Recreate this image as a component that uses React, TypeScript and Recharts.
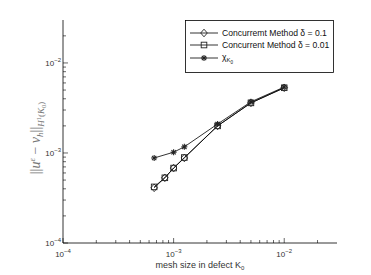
import { LineChart, Line, XAxis, YAxis, Legend, Label } from 'recharts';

// mesh sizes and errors
const hConcurrent = [6.67e-4, 8.33e-4, 1e-3, 1.25e-3, 2.5e-3, 5e-3, 1e-2];
const errDelta01 = [4.1e-4, 5.3e-4, 6.8e-4, 8.8e-4, 2.0e-3, 3.6e-3, 5.3e-3];
const errDelta001 = [4.2e-4, 5.3e-4, 6.8e-4, 8.9e-4, 2.0e-3, 3.6e-3, 5.3e-3];
const hChi = [6.67e-4, 1e-3, 1.25e-3, 2.5e-3, 5e-3, 1e-2];
const errChi = [8.8e-4, 1.02e-3, 1.17e-3, 2.1e-3, 3.7e-3, 5.4e-3];

const majorTicks = [1e-4, 1e-3, 1e-2];
const tickExponents = ['\u22124', '\u22123', '\u22122'];
const minorTicks = [
  2e-4, 3e-4, 4e-4, 5e-4, 6e-4, 7e-4, 8e-4, 9e-4,
  2e-3, 3e-3, 4e-3, 5e-3, 6e-3, 7e-3, 8e-3, 9e-3,
  2e-2,
];
const allTicks = [...majorTicks, ...minorTicks].sort((a, b) => a - b);

const delta01Data = hConcurrent.map((h, i) => ({ h, err: errDelta01[i] }));
const delta001Data = hConcurrent.map((h, i) => ({ h, err: errDelta001[i] }));
const chiData = hChi.map((h, i) => ({ h, err: errChi[i] }));

const FONT = '"Liberation Sans", Arial, Helvetica, sans-serif';
const SERIF = '"Liberation Serif", "Times New Roman", serif';
const MARK = '#222';

const isMajor = (v: number) => majorTicks.some(m => Math.abs(m - v) / m < 1e-6);
const expOf = (v: number) => tickExponents[majorTicks.findIndex(m => Math.abs(m - v) / m < 1e-6)];

function Diamond({ cx, cy }: { cx: number; cy: number }) {
  return (
    <polygon
      points={`${cx},${cy - 3.8} ${cx + 3.3},${cy} ${cx},${cy + 3.8} ${cx - 3.3},${cy}`}
      fill="none" stroke={MARK} strokeWidth={0.9}
    />
  );
}

function Square({ cx, cy }: { cx: number; cy: number }) {
  return <rect x={cx - 2.8} y={cy - 2.8} width={5.6} height={5.6} fill="none" stroke={MARK} strokeWidth={0.9} />;
}

function Star({ cx, cy }: { cx: number; cy: number }) {
  const r = 3;
  const d = r * 0.72;
  return (
    <g stroke={MARK} strokeWidth={1.1}>
      <line x1={cx - r} y1={cy} x2={cx + r} y2={cy} />
      <line x1={cx} y1={cy - r} x2={cx} y2={cy + r} />
      <line x1={cx - d} y1={cy - d} x2={cx + d} y2={cy + d} />
      <line x1={cx - d} y1={cy + d} x2={cx + d} y2={cy - d} />
    </g>
  );
}

const dotFn = (Shape: any) => (p: any) => <Shape key={p.key ?? `${p.cx}-${p.cy}`} cx={p.cx} cy={p.cy} />;

function BottomTick({ x, y, payload }: any) {
  const major = isMajor(payload.value);
  return (
    <g>
      <line x1={x} x2={x} y1={y} y2={y - (major ? 5 : 3)} stroke="#000" strokeWidth={0.6} />
      {major && (
        <text x={x} y={y + 14} textAnchor="middle" fontFamily={FONT} fontSize={8} fill="#333">
          10<tspan dy={-4} fontSize={6}>{expOf(payload.value)}</tspan>
        </text>
      )}
    </g>
  );
}

function TopTick({ x, y, payload }: any) {
  const major = isMajor(payload.value);
  return <line x1={x} x2={x} y1={y} y2={y + (major ? 5 : 3)} stroke="#000" strokeWidth={0.6} />;
}

function LeftTick({ x, y, payload }: any) {
  const major = isMajor(payload.value);
  return (
    <g>
      <line x1={x} x2={x + (major ? 5 : 3)} y1={y} y2={y} stroke="#000" strokeWidth={0.6} />
      {major && (
        <text x={x - 2} y={y + 3} textAnchor="end" fontFamily={FONT} fontSize={8} fill="#333">
          10<tspan dy={-4} fontSize={6}>{expOf(payload.value)}</tspan>
        </text>
      )}
    </g>
  );
}

function RightTick({ x, y, payload }: any) {
  const major = isMajor(payload.value);
  return <line x1={x} x2={x - (major ? 5 : 3)} y1={y} y2={y} stroke="#000" strokeWidth={0.6} />;
}

function YLabel() {
  const cx = 40;
  const cy = 138;
  return (
    <text
      x={cx} y={cy} transform={`rotate(-90 ${cx} ${cy})`} textAnchor="middle"
      fontFamily={SERIF} fontSize={14} fill="#777"
    >
      ||<tspan fontStyle="italic">u</tspan>
      <tspan dy={-5} fontSize={9} fontStyle="italic">ε</tspan>
      <tspan dy={5}> − </tspan>
      <tspan fontStyle="italic">v</tspan>
      <tspan dy={3} fontSize={9} fontStyle="italic">h</tspan>
      <tspan dy={-3}>||</tspan>
      <tspan dy={4} fontSize={9} fontStyle="italic">H</tspan>
      <tspan dy={-3.5} fontSize={6.5}>1</tspan>
      <tspan dy={3.5} fontSize={9}>(</tspan>
      <tspan fontSize={9} fontStyle="italic">K</tspan>
      <tspan dy={2} fontSize={6.5}>0</tspan>
      <tspan dy={-2} fontSize={9}>)</tspan>
    </text>
  );
}

function XLabel({ viewBox }: any) {
  const cx = viewBox ? viewBox.x + viewBox.width / 2 : 200;
  return (
    <text x={cx} y={268} textAnchor="middle" fontFamily={FONT} fontSize={9} fill="#333">
      mesh size in defect K<tspan dy={2} fontSize={6}>0</tspan>
    </text>
  );
}

function LegendBox() {
  const rows = [
    { y: 13, Shape: Diamond },
    { y: 25, Shape: Square },
    { y: 38, Shape: Star },
  ];
  return (
    <svg width={149} height={53} style={{ display: 'block' }}>
      <rect x={0.5} y={0.5} width={148} height={52} fill="#fff" stroke="#000" strokeWidth={0.8} />
      {rows.map(({ y, Shape }, i) => (
        <g key={i}>
          <line x1={5} x2={33} y1={y} y2={y} stroke="#000" strokeWidth={0.8} />
          <Shape cx={19} cy={y} />
        </g>
      ))}
      <text x={37} y={16} fontFamily={FONT} fontSize={8.6} fill="#111">Concurremt Method δ = 0.1</text>
      <text x={37} y={28} fontFamily={FONT} fontSize={8.6} fill="#111">Concurrent Method δ = 0.01</text>
      <text x={37} y={40} fontFamily={FONT} fontSize={8.6} fill="#111">
        χ<tspan dy={2} fontSize={6}>K</tspan><tspan dy={2} fontSize={4.5}>0</tspan>
      </text>
    </svg>
  );
}

export default function App() {
  return (
    <div style={{ position: 'absolute', left: 0, top: 0, width: 371, height: 275, background: '#fff' }}>
      <LineChart width={371} height={275} margin={{ top: 20, right: 34, left: 0, bottom: 0 }}>
        <XAxis
          xAxisId="b" dataKey="h" type="number" scale="log" domain={[1e-4, 0.03]} allowDataOverflow
          ticks={allTicks} interval={0} tick={<BottomTick />} tickLine={false} tickSize={0} tickMargin={0}
          axisLine={{ stroke: '#000', strokeWidth: 0.8 }} height={32}
        >
          <Label content={<XLabel />} />
        </XAxis>
        <XAxis
          xAxisId="t" orientation="top" dataKey="h" type="number" scale="log" domain={[1e-4, 0.03]}
          allowDataOverflow ticks={allTicks} interval={0} tick={<TopTick />} tickLine={false}
          tickSize={0} tickMargin={0} axisLine={{ stroke: '#000', strokeWidth: 0.8 }} height={0}
        />
        <YAxis
          yAxisId="l" dataKey="err" type="number" scale="log" domain={[1e-4, 0.03]} allowDataOverflow
          ticks={allTicks} interval={0} tick={<LeftTick />} tickLine={false} tickSize={0} tickMargin={0}
          axisLine={{ stroke: '#000', strokeWidth: 0.8 }} width={63}
        >
          <Label content={<YLabel />} />
        </YAxis>
        <YAxis
          yAxisId="r" orientation="right" dataKey="err" type="number" scale="log" domain={[1e-4, 0.03]}
          allowDataOverflow ticks={allTicks} interval={0} tick={<RightTick />} tickLine={false}
          tickSize={0} tickMargin={0} axisLine={{ stroke: '#000', strokeWidth: 0.8 }} width={0}
        />
        <Legend
          layout="vertical" align="center" verticalAlign="middle"
          wrapperStyle={{ position: 'absolute', left: 185, top: 20, width: 149, height: 53 }}
          content={() => <LegendBox />}
        />
        <Line
          xAxisId="b" yAxisId="l" data={delta01Data} dataKey="err" name="delta01"
          stroke="#000" strokeWidth={0.8} dot={dotFn(Diamond)} isAnimationActive={false}
        />
        <Line
          xAxisId="b" yAxisId="l" data={delta001Data} dataKey="err" name="delta001"
          stroke="#000" strokeWidth={0.8} dot={dotFn(Square)} isAnimationActive={false}
        />
        <Line
          xAxisId="b" yAxisId="l" data={chiData} dataKey="err" name="chi"
          stroke="#000" strokeWidth={0.8} dot={dotFn(Star)} isAnimationActive={false}
        />
      </LineChart>
    </div>
  );
}
